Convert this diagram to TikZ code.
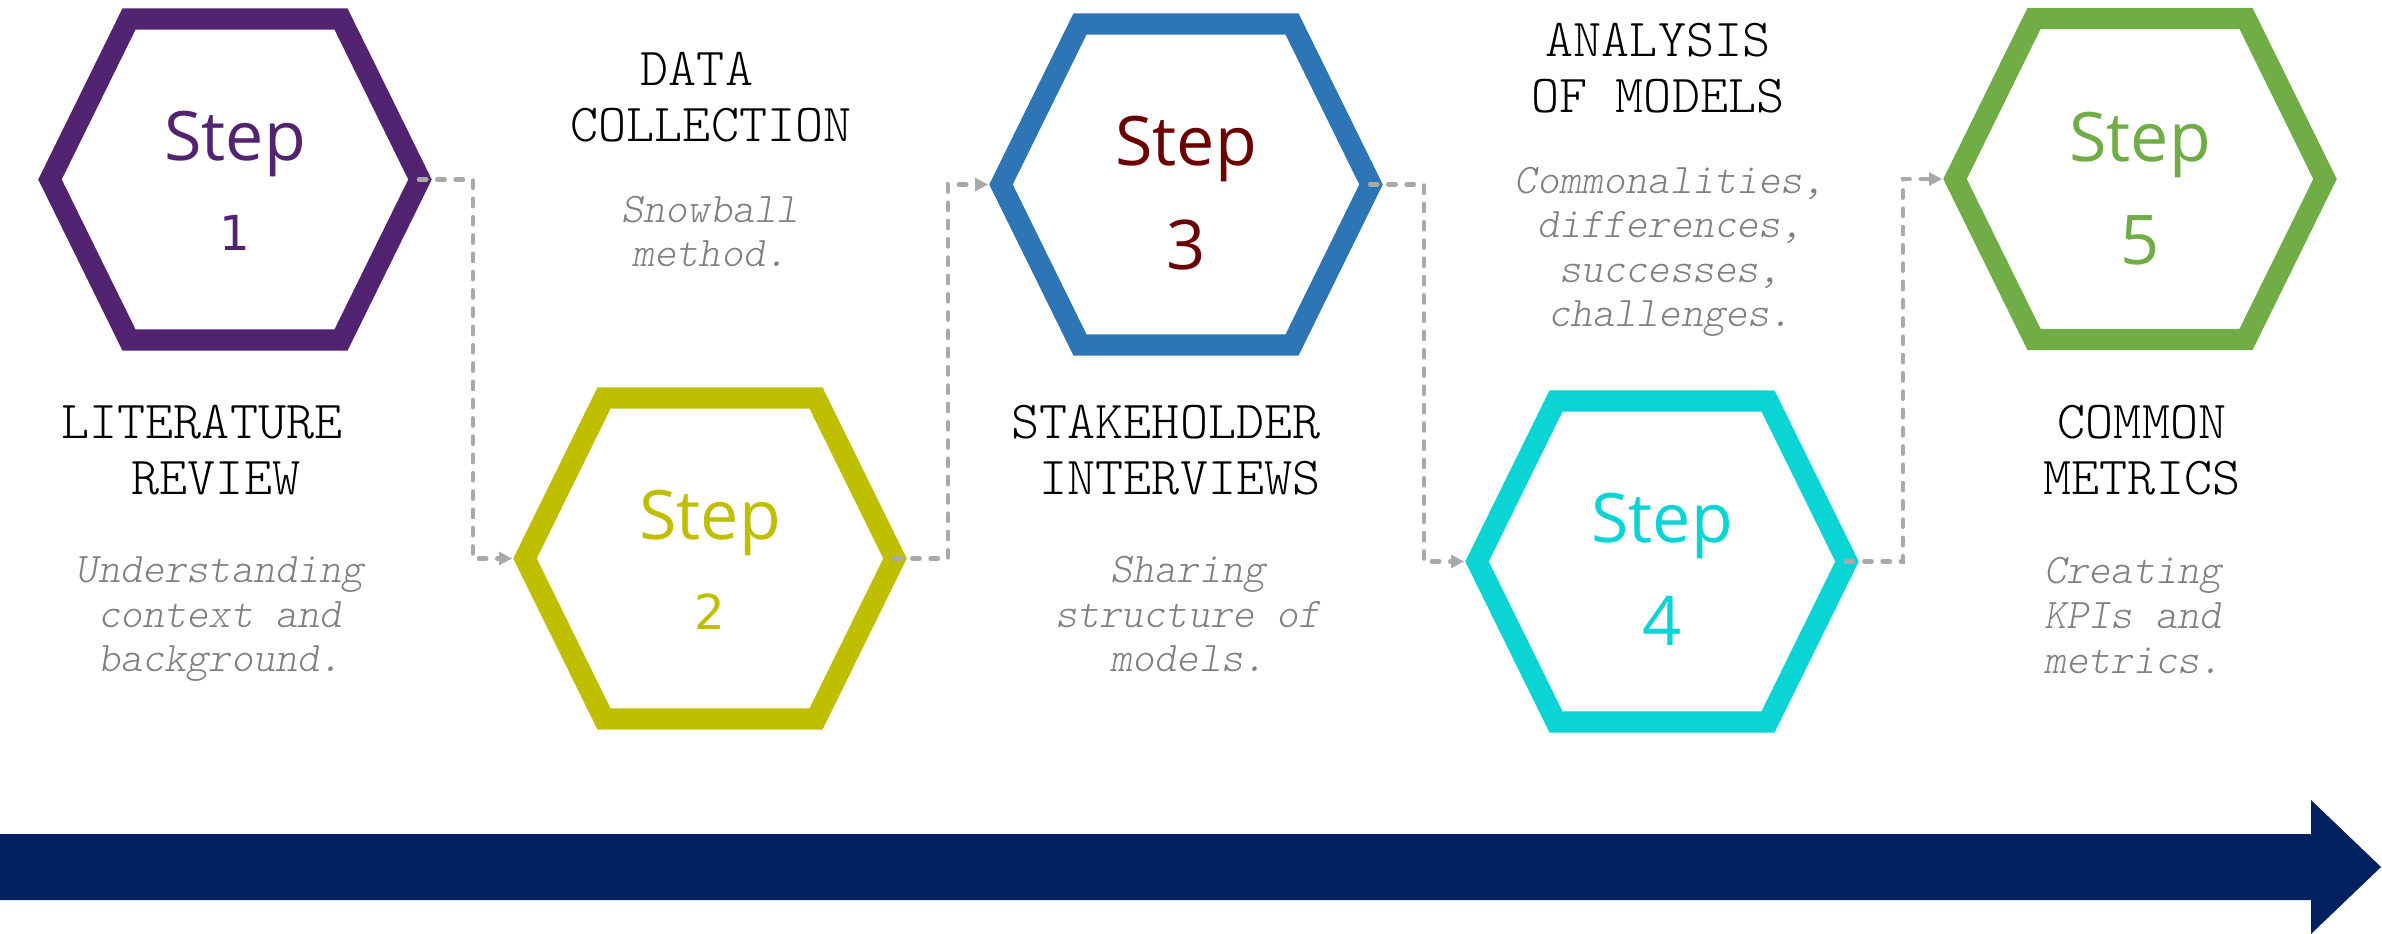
\documentclass[tikz,border=0pt]{standalone}
\usepackage{fontspec}
\usetikzlibrary{calc,arrows.meta}

\newfontfamily\typefont{lmmonolt10-regular.otf}
\newfontfamily\notefont{lmmonolt10-oblique.otf}
\newfontfamily\stepfont{Open Sans}
\newfontfamily\digitfont{DejaVu Sans}

\definecolor{stepone}{HTML}{512370}
\definecolor{steptwo}{HTML}{BFBF00}
\definecolor{stepthree}{HTML}{2E75B6}
\definecolor{stepthreeink}{HTML}{6B0000}
\definecolor{stepfour}{HTML}{0BD4D4}
\definecolor{stepfive}{HTML}{70AD47}
\definecolor{timeline}{HTML}{002060}
\definecolor{linkgray}{HTML}{A9A9A9}
\definecolor{notegray}{HTML}{808080}

\tikzset{
  hexnode/.style={minimum width=3.94cm, minimum height=3.43cm, inner sep=0pt},
  hexring/.style={draw=#1, line width=6pt, line join=miter},
  steplabel/.style={anchor=base, inner sep=0pt, text=#1, font=\stepfont\fontsize{19.4pt}{22pt}\selectfont},
  bignum/.style={anchor=base, inner sep=0pt, text=#1, font=\stepfont\fontsize{19.5pt}{22pt}\selectfont},
  smallnum/.style={anchor=base, inner sep=0pt, text=#1, font=\digitfont\fontsize{13.7pt}{16pt}\selectfont},
  % multi-line nodes: base sits on the last line
  heading/.style={anchor=base, align=center, inner sep=0pt, font=\typefont\fontsize{15.2pt}{16.2pt}\selectfont},
  note/.style={anchor=base, align=center, inner sep=0pt, text=notegray, font=\notefont\fontsize{12pt}{12.7pt}\selectfont},
  link/.style={draw=linkgray, line width=1.15pt, line cap=round, dash pattern=on 2.2pt off 3pt, -{Triangle[length=3.7pt,width=3.6pt]}}
}

\begin{document}
\begin{tikzpicture}[x=0.01cm, y=-0.01cm]
        \useasboundingbox (0,0) rectangle (2382,934);
        %\draw[gray, dashed] (0,0) grid[step=100] (2382,934);

        % the five steps
        \node[hexnode] (h1) at (235,179.5) {};
        \node[hexnode] (h2) at (710,558.5) {};
        \node[hexnode] (h3) at (1186,184.5) {};
        \node[hexnode] (h4) at (1662,561.5) {};
        \node[hexnode] (h5) at (2140,179) {};

        \foreach \h/\c in {h1/stepone, h2/steptwo, h3/stepthree, h4/stepfour, h5/stepfive}
            \draw[hexring=\c] ($(\h)+(-185,0)$) -- ++(79,-160.5) -- ++(212,0) -- ++(79,160.5)
                -- ++(-79,160.5) -- ++(-212,0) -- cycle;

        \node[steplabel=stepone] (h1-step) at ($(h1)+(0,-19)$) {Step};
        \node[smallnum=stepone] (h1-num) at ($(h1)+(0,71)$) {1};
        \node[steplabel=steptwo] (h2-step) at ($(h2)+(0,-19)$) {Step};
        \node[smallnum=steptwo] (h2-num) at ($(h2)+(0,71)$) {2};
        \node[steplabel=stepthreeink] (h3-step) at ($(h3)+(0,-19)$) {Step};
        \node[bignum=stepthreeink] (h3-num) at ($(h3)+(0,85)$) {3};
        \node[steplabel=stepfour] (h4-step) at ($(h4)+(0,-19)$) {Step};
        \node[bignum=stepfour] (h4-num) at ($(h4)+(0,84)$) {4};
        \node[steplabel=stepfive] (h5-step) at ($(h5)+(0,-17)$) {Step};
        \node[bignum=stepfive] (h5-num) at ($(h5)+(0,86)$) {5};

        % dashed links between the steps
        \draw[link] ($(h1.east)+(-14,0)$) -- ++(54,0) |- (h2.west);
        \draw[link] ($(h2.east)+(-14,0)$) -- ++(54,0) |- (h3.west);
        \draw[link] ($(h3.east)+(-14,0)$) -- ++(54,0) |- (h4.west);
        \draw[link] ($(h4.east)+(-14,0)$) -- ++(57,0) |- (h5.west);

        % titles
        \node[heading] (lit) at (216,495) {LITERATURE\hphantom{X}\\REVIEW};
        \node[heading] (data) at (711,142) {DATA\hphantom{X}\\COLLECTION};
        \node[heading] (stake) at (1180,495) {STAKEHOLDER\hphantom{X}\\INTERVIEWS};
        \node[heading] (anal) at (1658,113) {ANALYSIS\\OF MODELS};
        \node[heading] (metr) at (2142,495) {COMMON\\METRICS};

        % notes under the titles
        \node[note] (lit-note) at (220,672) {Understanding\\context and\\background.};
        \node[note] (data-note) at (710,267) {Snowball\\method.};
        \node[note] (stake-note) at (1188,672) {Sharing\\structure of\\models.};
        \node[note] (anal-note) at (1670,327) {Commonalities,\\differences,\\successes,\\challenges.};
        \node[note] (metr-note) at (2133,673) {Creating\\KPIs and\\metrics.};

        % time line
        \fill[timeline] (0,834) -- (2311,834) -- (2311,800) -- (2381,867) -- (2311,934)
            -- (2311,900) -- (0,900) -- cycle;
\end{tikzpicture}
\end{document}
